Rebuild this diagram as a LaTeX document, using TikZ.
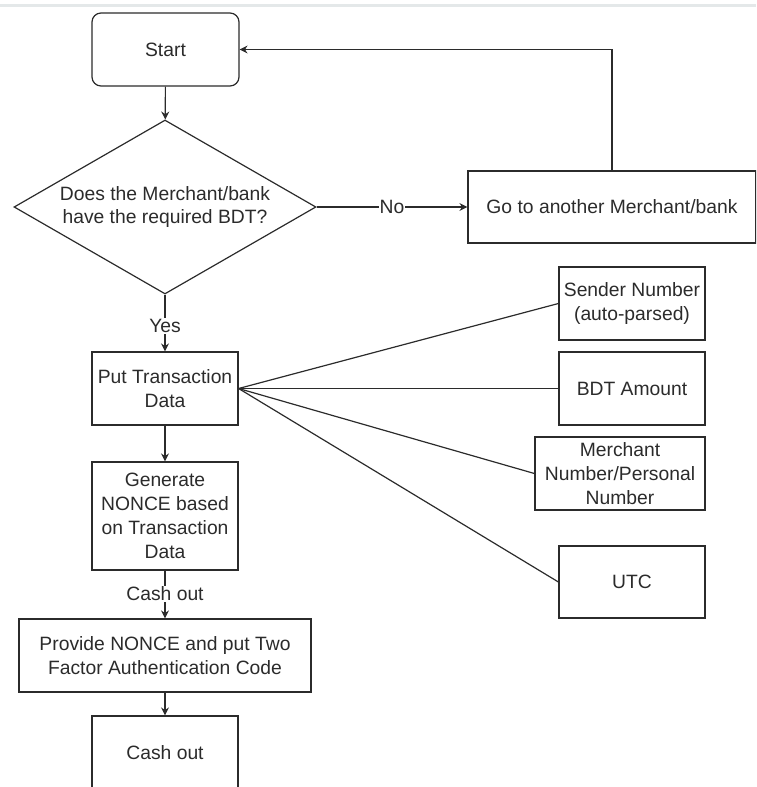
\documentclass[tikz,border=0pt]{standalone}
\usepackage{fontspec}
\setmainfont{Liberation Sans}
\usetikzlibrary{shapes.geometric,arrows.meta}
\definecolor{ink}{HTML}{2B2B2B}
\definecolor{rule}{HTML}{E4E8E9}
\begin{document}
\begin{tikzpicture}[x=1pt,y=-1pt,
  every node/.style={text=ink,font=\fontsize{19.3}{23.8}\selectfont},
  box/.style={draw=ink,line width=1.2pt,rectangle,align=center,inner sep=0pt},
  link/.style={draw=ink,line width=1.2pt},
  flow/.style={link,-{Stealth[length=8pt,width=8pt]}},
  tag/.style={fill=white,inner sep=1pt}]
\useasboundingbox (0,0) rectangle (756,787);
\clip (0,0) rectangle (756,787);
\fill[rule] (0,4) rectangle (756,6.5);

% main column
\node[box,rounded corners=9pt,minimum width=147pt,minimum height=73pt] (start) at (165.5,49.5) {Start};
\node[draw=ink,line width=1.2pt,diamond,shape aspect=1.74,inner sep=0pt,align=center,
      minimum width=302pt,minimum height=174pt] (dec) at (165,207)
      {Does the Merchant/bank\\have the required BDT?};
\node[box,minimum width=146pt,minimum height=73pt] (put) at (165,388.5) {Put Transaction\\Data};
\node[box,minimum width=146pt,minimum height=108pt] (gen) at (165,516) {Generate\\NONCE based\\on Transaction\\Data};
\node[box,minimum width=292pt,minimum height=73pt] (prov) at (165,655.5) {Provide NONCE and put Two\\Factor Authentication Code};
\node[box,minimum width=146pt,minimum height=73pt] (cash) at (165,752.5) {Cash out};

% side branch
\node[box,minimum width=288pt,minimum height=72pt] (go) at (612,207) {Go to another Merchant/bank};

% transaction data fields
\node[box,minimum width=146pt,minimum height=73pt] (sender) at (632,303.5) {Sender Number\\(auto-parsed)};
\node[box,minimum width=146pt,minimum height=73pt] (bdt) at (632,388.5) {BDT Amount};
\node[box,minimum width=170pt,minimum height=73pt] (merch) at (620,473.5) {Merchant\\Number/Personal\\Number};
\node[box,minimum width=146pt,minimum height=72pt] (utc) at (632,582) {UTC};

% connectors
\draw[flow] (start) -- (dec);
\draw[flow] (dec.east) -- node[tag] {No} (go.west);
\draw[flow] (go.north) |- (start.east);
\draw[flow] (dec.south) -- node[tag,pos=0.55] {Yes} (put.north);
\draw[flow] (put) -- (gen);
\draw[flow] (gen.south) -- node[tag,pos=0.49] {Cash out} (prov.north);
\draw[flow] (prov) -- (cash);

\draw[link] (put.east) -- (sender.west);
\draw[link] (put.east) -- (bdt.west);
\draw[link] (put.east) -- (merch.west);
\draw[link] (put.east) -- (utc.west);
\end{tikzpicture}
\end{document}
